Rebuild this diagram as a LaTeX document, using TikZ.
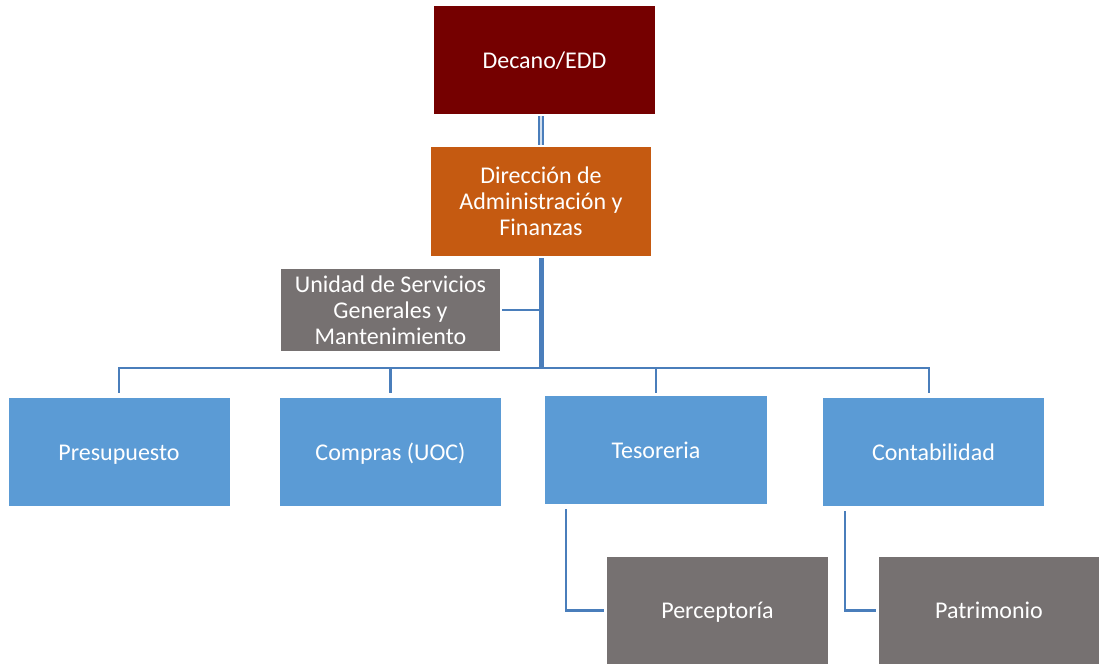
\documentclass[tikz,border=0pt]{standalone}
\usepackage{fontspec}
\setmainfont{Carlito}
\definecolor{decanoRed}{HTML}{750000}
\definecolor{dirOrange}{HTML}{C55A11}
\definecolor{unitGray}{HTML}{767171}
\definecolor{unitBlue}{HTML}{5B9BD5}
\definecolor{lineBlue}{HTML}{4A7EBB}
\tikzset{
	unitbox/.style={minimum width=221pt, minimum height=108pt, inner sep=0pt, align=center,
		text=white, font=\fontsize{24}{26}\selectfont},
	oneline/.style={unitbox, text height=19pt, text depth=3pt},
	link/.style={draw=lineBlue, line width=2.2pt},
	trunk/.style={draw=lineBlue, line width=5pt},
}
\begin{document}
\begin{tikzpicture}[x=1pt,y=-1pt]
	\useasboundingbox (0,0) rectangle (1099,664);
	% top of the chart
	\node[oneline, fill=decanoRed] (decano) at (544.5,60) {Decano/EDD};
	\node[unitbox, fill=dirOrange, minimum width=220pt, minimum height=109pt] (direccion) at (541,201.5) {Dirección de\\Administración y\\Finanzas};
	\node[unitbox, fill=unitGray, minimum width=219pt, minimum height=82pt] (unidad) at (390.5,310) {Unidad de Servicios\\Generales y\\Mantenimiento};
	\coordinate (bus) at (541,368);
	% departments
	\node[oneline, fill=unitBlue] (presupuesto) at (119,452) {Presupuesto};
	\node[oneline, fill=unitBlue] (compras) at (390.5,452) {Compras (UOC)};
	\node[oneline, fill=unitBlue, minimum width=222pt] (tesoreria) at (656,450) {Tesoreria};
	\node[oneline, fill=unitBlue] (contabilidad) at (933.5,452) {Contabilidad};
	\node[oneline, fill=unitGray, minimum height=107pt] (perceptoria) at (717.5,610.5) {Perceptoría};
	\node[oneline, fill=unitGray, minimum width=220pt, minimum height=107pt] (patrimonio) at (989,610.5) {Patrimonio};
	\coordinate (contab top) at ([xshift=-4.5pt]contabilidad.north);
	% connectors
	\draw[draw=lineBlue, line width=2pt, double=lineBlue!25, double distance=1.8pt, shorten <=2pt, shorten >=2pt] (decano.south -| bus) -- (direccion.north -| bus);
	\draw[trunk, shorten <=2pt] (direccion.south -| bus) -- (bus);
	\draw[link, shorten <=2pt] (unidad.east) -- (unidad.east -| bus);
	\draw[link, shorten <=5pt, shorten >=5pt] (presupuesto.north) |- (bus) -| (contab top);
	\draw[link, shorten >=5pt] (compras.north |- bus) -- (compras.north);
	\draw[link, shorten >=3pt] (tesoreria.north |- bus) -- (tesoreria.north);
	\draw[link, shorten <=5pt, shorten >=3pt] ([xshift=21pt]tesoreria.south west) |- (perceptoria.west);
	\draw[link, shorten <=5pt, shorten >=3pt] ([xshift=22pt]contabilidad.south west) |- (patrimonio.west);
\end{tikzpicture}
\end{document}
